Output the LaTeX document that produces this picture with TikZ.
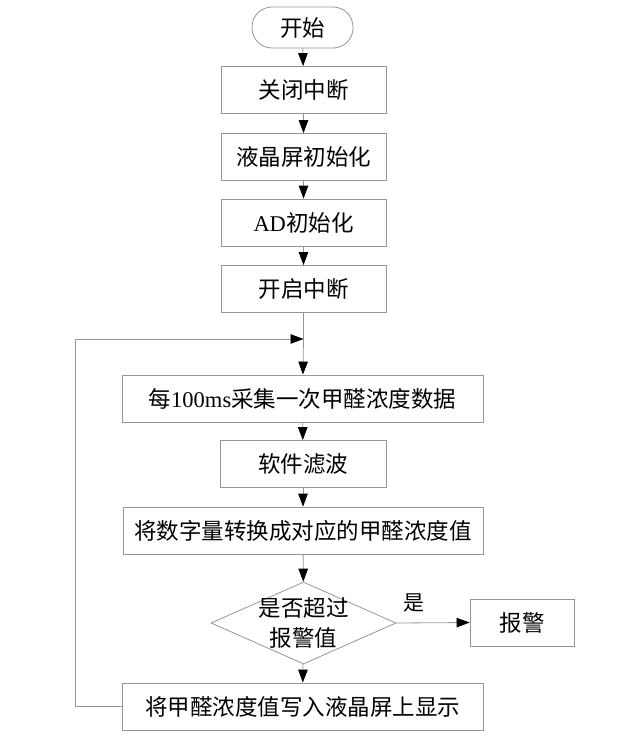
\documentclass[tikz,border=0pt]{standalone}
\usepackage{fontspec}
\setmainfont{Liberation Serif}
\newfontfamily\cjk{Noto Sans CJK SC}
\usetikzlibrary{arrows.meta,shapes.geometric}
\definecolor{ln}{RGB}{150,150,150}
\begin{document}
\begin{tikzpicture}[x=1pt,y=-1pt,
  box/.style={draw=ln, line width=0.8pt, minimum height=47pt, inner sep=0pt,
    font=\cjk\fontsize{22.5}{27}\selectfont},
  term/.style={box, rounded corners=20pt, minimum width=101pt, minimum height=41pt},
  dia/.style={draw=ln, line width=0.8pt, diamond, minimum width=185pt, minimum height=82pt, inner sep=0pt},
  lbl/.style={font=\cjk\fontsize{22.5}{30}\selectfont, align=center, inner sep=0pt},
  conn/.style={draw=ln, line width=0.8pt},
  arr/.style={conn, -{Triangle[length=13pt,width=9.5pt,color=black]}}]
\useasboundingbox (0,0) rectangle (616,744);

\node[term] (start) at (302.5,27.5) {开始};
\node[box, minimum width=165pt] (b1) at (303.5,90) {关闭中断};
\node[box, minimum width=165pt] (b2) at (303.5,157) {液晶屏初始化};
\node[box, minimum width=165pt] (b3) at (303.5,222.5) {{\rmfamily AD}初始化};
\node[box, minimum width=165pt] (b4) at (303.5,289) {开启中断};
\coordinate (j) at (303.5,339);
\coordinate (lc) at (75,339);
\node[box, minimum width=361pt] (b5) at (302.5,398.5) {每{\rmfamily 100ms}采集一次甲醛浓度数据};
\node[box, minimum width=166pt] (b6) at (303,464) {软件滤波};
\node[box, minimum width=360pt] (b7) at (303,530.5) {将数字量转换成对应的甲醛浓度值};
\node[dia] (d) at (303.5,623) {};
\node[lbl] (dt) at (d) {是否超过\\报警值};
\node[box, minimum width=104pt] (alarm) at (522,622.5) {报警};
\node[box, minimum width=361pt] (b8) at (302.5,706.5) {将甲醛浓度值写入液晶屏上显示};
\node[lbl, font=\cjk\fontsize{21}{25}\selectfont] (yes) at (414,603) {是};

\draw[arr] (start) -- (b1);
\draw[arr] (b1) -- (b2);
\draw[arr] (b2) -- (b3);
\draw[arr] (b3) -- (b4);
\draw[conn] (b4) -- (j);
\draw[arr] (j) -- (b5);
\draw[arr] (b5) -- (b6);
\draw[arr] (b6) -- (b7);
\draw[arr] (b7) -- (d);
\draw[arr] (d) -- (b8);
\draw[arr] (d.east) -- (alarm.west);
\draw[arr] (b8.west) -| (lc) -- (j);
\end{tikzpicture}
\end{document}
